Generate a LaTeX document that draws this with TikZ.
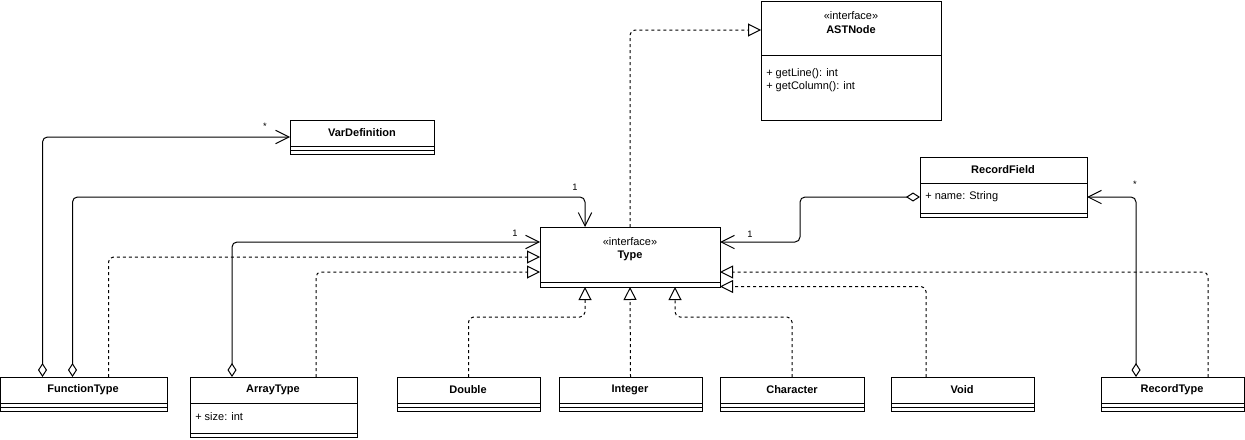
\documentclass[tikz,border=0pt]{standalone}
\usepackage{fontspec}
\setmainfont{Liberation Sans}
\usetikzlibrary{arrows.meta,fit,calc}
\begin{document}
\begin{tikzpicture}[x=0.75pt,y=-0.75pt,
 box/.style={draw, line width=0.75pt, inner sep=0pt, outer sep=0pt},
 ttl/.style={font=\bfseries\fontsize{8.25}{10}\selectfont, inner sep=0pt},
 ster/.style={font=\fontsize{8.25}{10}\selectfont, inner sep=0pt},
 attr/.style={font=\fontsize{8.25}{10}\selectfont, inner sep=0pt, anchor=west},
 lbl/.style={font=\fontsize{7}{8}\selectfont, inner sep=0pt},
 conn/.style={line width=0.75pt, rounded corners=3.75pt},
 real/.style={conn, dash pattern=on 2.25pt off 2.25pt, -{Triangle[open,length=9.75pt,width=9.75pt]}},
 assoc/.style={conn, {Diamond[open,length=10.5pt,width=6.75pt]}-{Straight Barb[length=10pt,width=10pt]}},
 sep/.style={line width=0.75pt}
]
\useasboundingbox (0,0) rectangle (1245,439);

% ---------- classes ----------
\node[box, fit={(761,1)(941,120)}] (ast) {};
\draw[sep] (761,55) -- (941,55);
\node[ster] (astS) at (851,16) {«interface»};
\node[ttl] (astT) at (851,30) {ASTNode};
\node[attr] (astA) at (766,74) {+ getLine(): int};
\node[attr] (astB) at (766,87) {+ getColumn(): int};

\node[box, fit={(290,120)(434,154)}] (var) {};
\draw[sep] (290,146) -- (434,146) (290,150) -- (434,150);
\node[ttl] (varT) at (362,133) {VarDefinition};

\node[box, fit={(920,157)(1087,217)}] (rf) {};
\draw[sep] (920,183) -- (1087,183) (920,213) -- (1087,213);
\node[ttl] (rfT) at (1003,170) {RecordField};
\node[attr] (rfA) at (925,197) {+ name: String};

\node[box, fit={(540,227)(720,287)}] (type) {};
\draw[sep] (540,282) -- (720,282);
\node[ster] (typeS) at (630,242) {«interface»};
\node[ttl] (typeT) at (630,256) {Type};

\node[box, fit={(0.5,377)(167,411)}] (ft) {};
\draw[sep] (0.5,403) -- (167,403) (0.5,407) -- (167,407);
\node[ttl] (ftT) at (83,390) {FunctionType};

\node[box, fit={(190,377)(357,437)}] (at) {};
\draw[sep] (190,403) -- (357,403) (190,433) -- (357,433);
\node[ttl] (atT) at (273,390) {ArrayType};
\node[attr] (atA) at (195,417) {+ size: int};

\node[box, fit={(397,377)(540,411)}] (dbl) {};
\draw[sep] (397,403) -- (540,403) (397,407) -- (540,407);
\node[ttl] (dblT) at (468,390) {Double};

\node[box, fit={(559,377)(702,411)}] (int) {};
\draw[sep] (559,403) -- (702,403) (559,407) -- (702,407);
\node[ttl] (intT) at (630,390) {Integer};

\node[box, fit={(720,377)(864,411)}] (chr) {};
\draw[sep] (720,403) -- (864,403) (720,407) -- (864,407);
\node[ttl] (chrT) at (792,390) {Character};

\node[box, fit={(891,377)(1034,411)}] (void) {};
\draw[sep] (891,403) -- (1034,403) (891,407) -- (1034,407);
\node[ttl] (voidT) at (962,390) {Void};

\node[box, fit={(1101,377)(1244,411)}] (rt) {};
\draw[sep] (1101,403) -- (1244,403) (1101,407) -- (1244,407);
\node[ttl] (rtT) at (1172,390) {RecordType};

% ---------- connectors ----------
% Type realizes ASTNode
\draw[real] (type.north) |- ($(ast.north west)+(0,29)$);

% FunctionType -> VarDefinition
\draw[assoc] ($(ft.north west)+(42,0)$) |- ($(var.north west)+(0,17)$);
\node[lbl] (l1) at (265,126) {*};

% FunctionType -> Type
\draw[assoc] ($(ft.north west)+(72,0)$) -- ++(0,-180) -| ($(type.north west)+(45,0)$);
\node[lbl] (l2) at (575,187) {1};

% FunctionType realizes Type
\draw[real] ($(ft.north west)+(108,0)$) |- ($(type.north west)+(0,30)$);

% ArrayType -> Type
\draw[assoc] ($(at.north west)+(42,0)$) |- ($(type.north west)+(0,15)$);
\node[lbl] (l3) at (515,233) {1};

% ArrayType realizes Type
\draw[real] ($(at.north west)+(126,0)$) |- ($(type.north west)+(0,45)$);

% Double, Integer, Character realize Type
\draw[real] (dbl.north) -- ++(0,-60) -| ($(type.south west)+(45,0)$);
\draw[real] (int.north) -- (type.south);
\draw[real] (chr.north) -- ++(0,-60) -| ($(type.south west)+(135,0)$);

% Void realizes Type
\draw[real] ($(void.north west)+(35,0)$) |- ($(type.north east)+(0,59.5)$);

% RecordType realizes Type
\draw[real] ($(rt.north west)+(107,0)$) |- ($(type.north east)+(0,45)$);

% RecordField -> Type
\draw[assoc] ($(rf.north west)+(0,40)$) -- ++(-120,0) |- ($(type.north east)+(0,15)$);
\node[lbl] (l4) at (750,234) {1};

% RecordType -> RecordField
\draw[assoc] ($(rt.north west)+(35,0)$) |- ($(rf.north east)+(0,40)$);
\node[lbl] (l5) at (1135,184) {*};
\end{tikzpicture}
\end{document}
